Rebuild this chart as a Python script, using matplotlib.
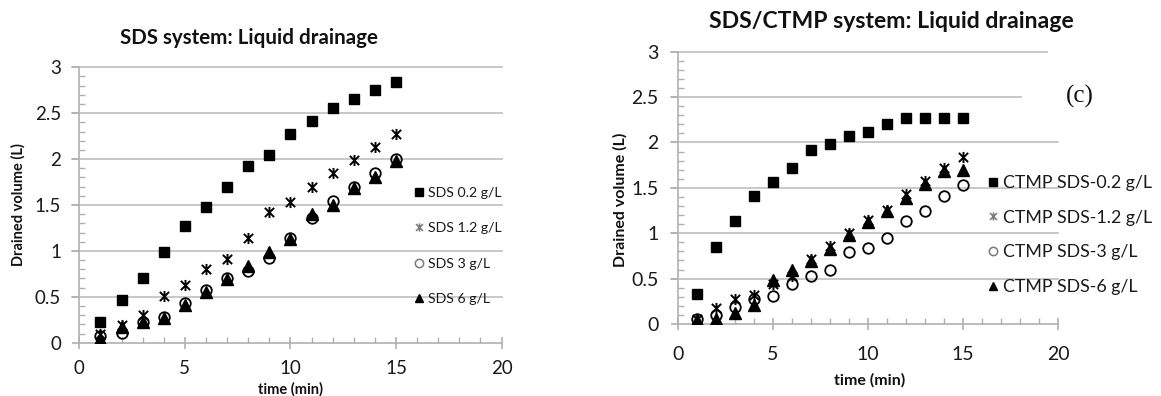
import matplotlib
matplotlib.use("Agg")
import matplotlib.pyplot as plt
from matplotlib.path import Path
from matplotlib.lines import Line2D
from matplotlib.ticker import MultipleLocator

plt.rcParams['font.family'] = ['Lato', 'DejaVu Sans']

# ---------------- data ----------------
time_min = [1, 2, 3, 4, 5, 6, 7, 8, 9, 10, 11, 12, 13, 14, 15]

sds_02 = [0.23, 0.46, 0.71, 0.99, 1.27, 1.48, 1.70, 1.93, 2.04, 2.27, 2.41, 2.56, 2.66, 2.75, 2.84]
sds_12 = [0.10, 0.19, 0.30, 0.51, 0.63, 0.80, 0.91, 1.14, 1.42, 1.53, 1.70, 1.85, 1.99, 2.13, 2.27]
sds_3 = [0.07, 0.11, 0.23, 0.28, 0.43, 0.57, 0.71, 0.78, 0.92, 1.14, 1.36, 1.54, 1.70, 1.85, 2.00]
sds_6 = [0.04, 0.17, 0.23, 0.27, 0.41, 0.55, 0.69, 0.84, 0.99, 1.13, 1.40, 1.50, 1.69, 1.81, 1.98]

ctmp_02 = [0.33, 0.85, 1.14, 1.41, 1.56, 1.72, 1.92, 1.98, 2.07, 2.12, 2.20, 2.27, 2.27, 2.27, 2.27]
ctmp_12 = [0.05, 0.18, 0.27, 0.32, 0.44, 0.53, 0.72, 0.86, 1.00, 1.15, 1.26, 1.43, 1.57, 1.72, 1.84]
ctmp_3 = [0.05, 0.10, 0.19, 0.28, 0.31, 0.44, 0.53, 0.59, 0.79, 0.84, 0.95, 1.13, 1.24, 1.41, 1.53]
ctmp_6 = [0.04, 0.06, 0.12, 0.21, 0.49, 0.60, 0.69, 0.83, 0.98, 1.12, 1.25, 1.39, 1.54, 1.69, 1.70]

left_labels = ['SDS 0.2 g/L', 'SDS 1.2 g/L', 'SDS 3 g/L', 'SDS 6 g/L']
right_labels = ['CTMP SDS-0.2 g/L', 'CTMP SDS-1.2 g/L', 'CTMP SDS-3 g/L', 'CTMP SDS-6 g/L']
left_title = 'SDS system: Liquid drainage'
right_title = 'SDS/CTMP system: Liquid drainage'
xlabel = 'time (min)'
ylabel = 'Drained volume (L)'
x_ticks = [0, 5, 10, 15, 20]
y_ticks = [0, 0.5, 1, 1.5, 2, 2.5, 3]
y_tick_labels = ['0', '0.5', '1', '1.5', '2', '2.5', '3']

# Excel-like star marker (X with vertical bar)
star = Path([(-1, -1), (1, 1), (-1, 1), (1, -1), (0, -1.2), (0, 1.2)],
            [Path.MOVETO, Path.LINETO, Path.MOVETO, Path.LINETO, Path.MOVETO, Path.LINETO])

GRID = '#c4c4c4'
AXC = '#b0b0b0'
TXT = '#1a1a1a'

W, H = 1161, 396
fig = plt.figure(figsize=(W / 100, H / 100), dpi=100)


def px_axes(x0, x1, y0, y1):
    return fig.add_axes([x0 / W, 1 - y1 / H, (x1 - x0) / W, (y1 - y0) / H])


def style_axes(ax, lsize, xpad, ypad):
    ax.set_xlim(0, 20)
    ax.set_ylim(0, 3)
    ax.set_xticks(x_ticks)
    ax.set_xticklabels([str(t) for t in x_ticks])
    ax.set_yticks(y_ticks)
    ax.set_yticklabels(y_tick_labels)
    ax.xaxis.set_minor_locator(MultipleLocator(1))
    ax.yaxis.set_minor_locator(MultipleLocator(0.1))
    for s in ['top', 'right']:
        ax.spines[s].set_visible(False)
    for s in ['left', 'bottom']:
        ax.spines[s].set_color(AXC)
        ax.spines[s].set_linewidth(1.2)
    ax.tick_params(axis='x', which='major', direction='inout', length=9, width=1.2,
                   color=AXC, labelsize=lsize, pad=xpad, labelcolor=TXT)
    ax.tick_params(axis='x', which='minor', direction='in', length=4, width=1,
                   color=AXC)
    ax.tick_params(axis='y', which='major', direction='out', length=5, width=1.2,
                   color=AXC, labelsize=lsize, pad=ypad, labelcolor=TXT)
    ax.tick_params(axis='y', which='minor', direction='in', length=4, width=1,
                   color=AXC)
    ax.set_facecolor('none')


def plot_series(ax, ys):
    s02, s12, s3, s6 = ys
    ax.plot(time_min, s02, linestyle='none', marker='s', ms=7.2, color='black', zorder=3)
    ax.plot(time_min, s12, linestyle='none', marker=star, ms=8, mec='black', mew=1.4,
            mfc='none', zorder=3)
    ax.plot(time_min, s3, linestyle='none', marker='o', ms=7.6, mec='black', mew=1.3,
            mfc='none', zorder=3)
    ax.plot(time_min, s6, linestyle='none', marker='^', ms=8, color='black', zorder=4)


def legend_handles():
    return [
        Line2D([], [], linestyle='none', marker='s', ms=5.5, color='black'),
        Line2D([], [], linestyle='none', marker=star, ms=6, mec='#7a7a7a', mew=1.1, mfc='none'),
        Line2D([], [], linestyle='none', marker='o', ms=6, mec='#7a7a7a', mew=1.1, mfc='none'),
        Line2D([], [], linestyle='none', marker='^', ms=6, color='black'),
    ]


# ---------------- left chart ----------------
axL = px_axes(79.3, 501.5, 67.3, 342.7)
style_axes(axL, 13.5, 8, 8)
for y in y_ticks[1:]:
    axL.axhline(y, xmin=-0.018, xmax=1.0, color=GRID, lw=1.3, zorder=1, clip_on=False)
plot_series(axL, [sds_02, sds_12, sds_3, sds_6])
fig.legend(handles=legend_handles(), labels=left_labels, loc='center left',
           bbox_to_anchor=(413 / W, 1 - 246 / H), frameon=False, fontsize=10.2,
           handlelength=0.8, handletextpad=0.25, labelspacing=1.65, borderaxespad=0,
           borderpad=0, labelcolor=TXT)
fig.text(249 / W, 1 - 38 / H, left_title, ha='center', va='center', fontsize=14.8,
         fontweight='bold', color='#111111')
fig.text(18 / W, 1 - 205 / H, ylabel, ha='center', va='center', rotation=90,
         fontsize=10.5, fontweight='bold', color='#111111')
fig.text(290 / W, 1 - 389 / H, xlabel, ha='center', va='center', fontsize=10.5,
         fontweight='bold', color='#111111')

# ---------------- right chart ----------------
axR = px_axes(678, 1058, 51.7, 324)
style_axes(axR, 14, 11, 9)
for y, xm in zip(y_ticks[1:], [1.0, 1.0, 1.0, 1.0, 0.903, 0.97]):
    axR.axhline(y, xmin=-0.018, xmax=xm, color=GRID, lw=1.3, zorder=1, clip_on=False)
plot_series(axR, [ctmp_02, ctmp_12, ctmp_3, ctmp_6])
fig.legend(handles=legend_handles(), labels=right_labels, loc='center left',
           bbox_to_anchor=(987 / W, 1 - 235 / H), frameon=False, fontsize=12.8,
           handlelength=0.7, handletextpad=0.2, labelspacing=1.05, borderaxespad=0,
           borderpad=0, labelcolor=TXT)
fig.text(891 / W, 1 - 22 / H, right_title, ha='center', va='center', fontsize=16.6,
         fontweight='bold', color='#111111')
fig.text(620 / W, 1 - 200 / H, ylabel, ha='center', va='center', rotation=90,
         fontsize=11.5, fontweight='bold', color='#111111')
fig.text(870 / W, 1 - 380 / H, xlabel, ha='center', va='center', fontsize=11.5,
         fontweight='bold', color='#111111')
axR.text(1.058, 2.51, '(c)', transform=axR.get_yaxis_transform(), ha='center',
         va='center', fontsize=18, family='Liberation Serif', color='#111111')

fig.savefig('out.png', dpi=100)
